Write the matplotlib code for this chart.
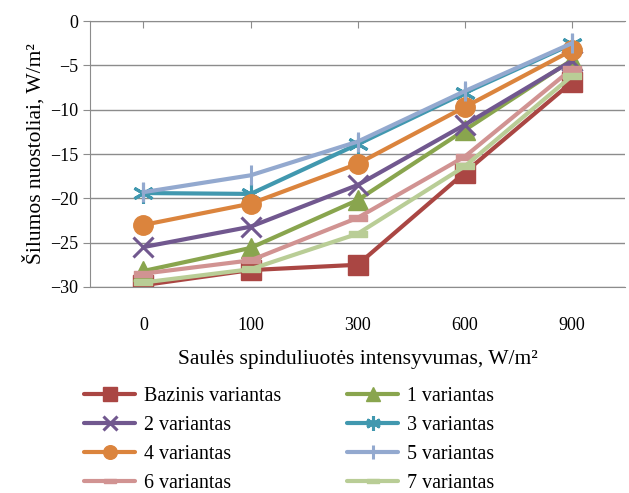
import numpy as np
import matplotlib
matplotlib.use('Agg')
from matplotlib import pyplot as plt
from matplotlib.path import Path

plt.rcParams['font.family'] = ['Liberation Serif', 'DejaVu Serif']

categories = ['0', '100', '300', '600', '900']
series_names = ['Bazinis variantas', '1 variantas', '2 variantas', '3 variantas',
                '4 variantas', '5 variantas', '6 variantas', '7 variantas']
bazinis = [-29.8, -28.1, -27.5, -17.1, -6.9]
var1 = [-28.2, -25.6, -20.2, -12.3, -4.4]
var2 = [-25.5, -23.2, -18.5, -11.7, -4.5]
var3 = [-19.4, -19.5, -13.9, -8.1, -2.6]
var4 = [-23.0, -20.6, -16.1, -9.7, -3.3]
var5 = [-19.3, -17.4, -13.6, -7.9, -2.5]
var6 = [-28.5, -27.0, -22.2, -15.3, -5.4]
var7 = [-29.5, -28.0, -24.0, -16.4, -6.2]
values = [bazinis, var1, var2, var3, var4, var5, var6, var7]

colors = ['#AA4643', '#89A54E', '#71588F', '#4198AF',
          '#DB843D', '#93A9CF', '#D19392', '#B9CD96']

# short horizontal bar marker (Excel "dash")
dash = Path([(-1, -0.32), (1, -0.32), (1, 0.32), (-1, 0.32), (-1, -0.32)],
            [Path.MOVETO, Path.LINETO, Path.LINETO, Path.LINETO, Path.CLOSEPOLY])
markers = ['s', '^', 'x', (6, 2, 0), 'o', '|', dash, dash]
sizes = [15, 14, 14, 15, 14, 15, 13, 13]

fig = plt.figure(figsize=(6.29, 4.93), dpi=100)
ax = fig.add_axes([0.143, 0.418, 0.851, 0.539])

x = np.arange(len(categories))
lines = []
for name, vals, c, m, ms in zip(series_names, values, colors, markers, sizes):
    mew = 2.2 if m in ('x', '|', (6, 2, 0)) else 1
    ln, = ax.plot(x, vals, color=c, lw=3, marker=m, ms=ms, mec=c, mfc=c,
                  mew=mew, label=name, solid_joinstyle='round', solid_capstyle='round')
    lines.append(ln)

ax.set_xlim(-0.5, 4.5)
ax.set_ylim(-30, 0)
ax.set_yticks(np.arange(-30, 1, 5))
ax.set_xticks(x)
ax.set_xticklabels(categories)
ax.yaxis.grid(True, color='#8c8c8c', lw=1)
ax.set_axisbelow(True)
ax.spines['right'].set_visible(False)
for s in ['left', 'top', 'bottom']:
    ax.spines[s].set_color('#8c8c8c')
ax.tick_params(axis='x', bottom=False, top=True, direction='in', length=5,
               color='#8c8c8c', labelsize=13, pad=22)
ax.tick_params(axis='y', direction='out', length=5, color='#8c8c8c', labelsize=13)

ax.set_ylabel('Šilumos nuostoliai, W/m²', fontsize=15.5, labelpad=3)
ax.set_xlabel('Saulės spinduliuotės intensyvumas, W/m²', fontsize=15.5, labelpad=11)

order = [0, 2, 4, 6, 1, 3, 5, 7]
fig.legend([lines[i] for i in order], [series_names[i] for i in order],
           ncol=2, loc='lower left', bbox_to_anchor=(82 / 629, -0.005), frameon=False,
           fontsize=14.4, handlelength=2.55, handletextpad=0.45, columnspacing=3.3,
           markerscale=0.7, labelspacing=0.5, borderpad=0.1, borderaxespad=0)

fig.savefig('out.png', dpi=100)
